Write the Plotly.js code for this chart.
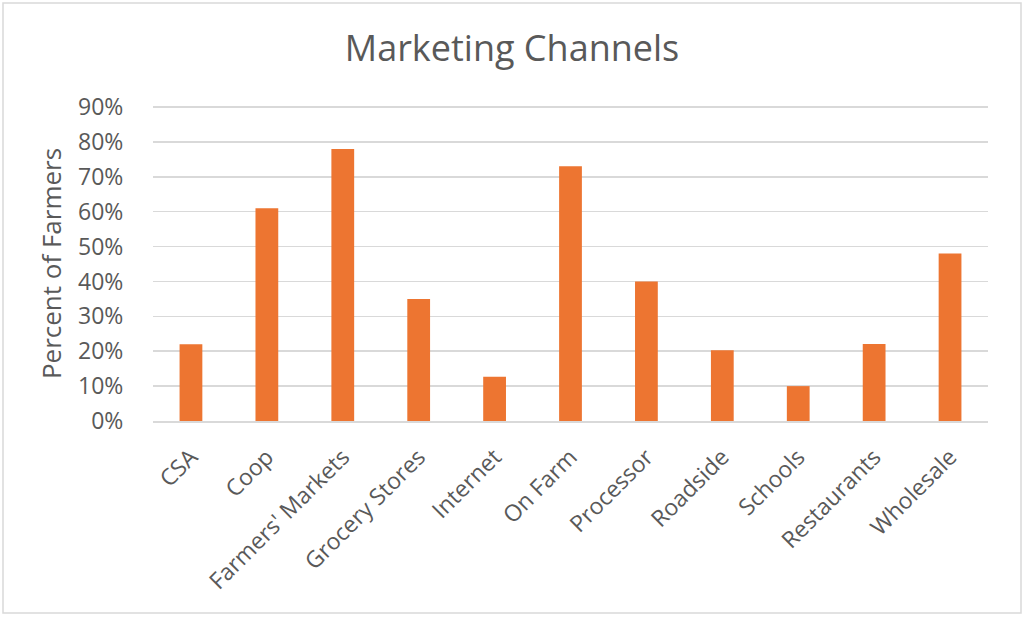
<!DOCTYPE html>
<html><head><meta charset="utf-8">
<script src="https://cdn.plot.ly/plotly-3.0.1.min.js"></script>
<style>html,body{margin:0;padding:0;background:#fff}#chart{width:1024px;height:618px}</style>
</head><body><div id="chart"></div>
<script>
const categories = ["CSA","Coop","Farmers' Markets","Grocery Stores","Internet","On Farm","Processor","Roadside","Schools","Restaurants","Wholesale"];
const percentFarmers = [0.22,0.61,0.78,0.35,0.127,0.73,0.40,0.203,0.10,0.221,0.48];
const yTickVals = [0,0.1,0.2,0.3,0.4,0.5,0.6,0.7,0.8,0.9];

const W=1024,H=618,L=153,R=36,T=106,B=197;
const pw=W-L-R, ph=H-T-B;
const px=x=>(x-L)/pw, py=y=>(H-B-y)/ph;
const font="Open Sans, Inter, Liberation Sans, sans-serif";
const grey="#595959";

Plotly.newPlot('chart',[{
  type:'bar', x:categories, y:percentFarmers,
  marker:{color:'#ED7531'}, hoverinfo:'x+y'
}],{
  width:W,height:H,
  margin:{l:L,r:R,t:T,b:B,pad:0},
  paper_bgcolor:'#fff',plot_bgcolor:'#fff',
  bargap:0.7,
  showlegend:false,
  font:{family:font,color:grey},
  title:{text:'Marketing Channels',font:{family:font,size:36,color:grey},x:0.5,xanchor:'center',y:1-48/H,yanchor:'middle'},
  xaxis:{tickangle:-45,tickfont:{size:23,color:grey},ticks:'outside',ticklen:12,tickcolor:'rgba(0,0,0,0)',
         showline:true,linecolor:'#d9d9d9',linewidth:1.5,showgrid:false,zeroline:false,fixedrange:true},
  yaxis:{range:[0,0.903],tickvals:yTickVals,tickformat:'.0%',tickfont:{size:23,color:grey},
         ticks:'outside',ticklen:24,tickcolor:'rgba(0,0,0,0)',
         showgrid:true,gridcolor:'#d9d9d9',gridwidth:1.5,zeroline:false,showline:false,
         title:{text:'Percent of Farmers',font:{size:26,color:grey},standoff:8},fixedrange:true},
  shapes:[{type:'rect',xref:'paper',yref:'paper',x0:px(3),x1:px(1021),y0:py(613),y1:py(3),
           line:{color:'#d9d9d9',width:1.5},fillcolor:'rgba(0,0,0,0)',layer:'below'}]
},{displayModeBar:false,staticPlot:true});
</script></body></html>
